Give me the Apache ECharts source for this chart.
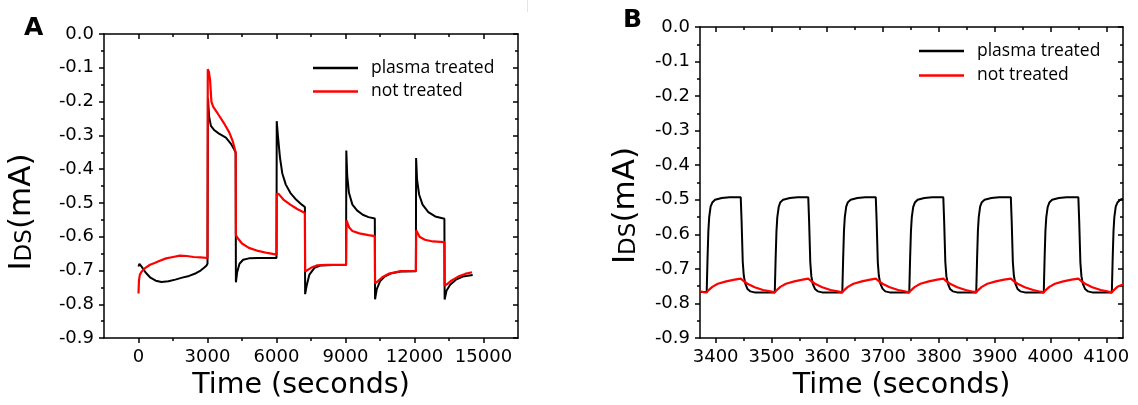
<!DOCTYPE html>
<html><head><meta charset="utf-8">
<script src="https://cdn.jsdelivr.net/npm/echarts@6/dist/echarts.min.js"></script>
<style>html,body{margin:0;padding:0;background:#fff}#c{width:1138px;height:405px}</style>
</head><body><div id="c"></div>
<script>
// ---------- data ----------
const seriesNames = ['plasma treated', 'not treated'];
const panelLabels = ['A', 'B'];
const xTitle = 'Time (seconds)';
const yTitleRich = '{a|I}{b|DS}{a|(mA)}';

const xTicksA = [0, 3000, 6000, 9000, 12000, 15000];
const xMinorA = [1500, 4500, 7500, 10500, 13500];
const xTicksB = [3400, 3500, 3600, 3700, 3800, 3900, 4000, 4100];
const xMinorB = [3450, 3550, 3650, 3750, 3850, 3950, 4050];

// Panel A: long time series
const plasmaA = [
  [0,-0.688],[40,-0.680],[80,-0.679],[150,-0.690],[300,-0.705],[500,-0.720],[750,-0.730],[1000,-0.734],
  [1300,-0.732],[1600,-0.727],[1900,-0.721],[2200,-0.716],[2500,-0.708],[2700,-0.700],[2850,-0.692],
  [2950,-0.686],[3000,-0.680],[3020,-0.190],[3070,-0.245],[3150,-0.272],[3300,-0.285],[3500,-0.295],
  [3800,-0.307],[4030,-0.326],[4150,-0.340],[4225,-0.352],[4235,-0.735],[4290,-0.705],[4390,-0.680],
  [4550,-0.668],[4800,-0.664],[5200,-0.663],[6000,-0.663],[6010,-0.258],[6060,-0.300],[6150,-0.365],
  [6250,-0.412],[6400,-0.445],[6600,-0.470],[6850,-0.490],[7100,-0.505],[7235,-0.512],[7245,-0.770],
  [7310,-0.745],[7430,-0.712],[7650,-0.692],[7900,-0.685],[8500,-0.684],[9025,-0.684],[9035,-0.345],
  [9075,-0.420],[9150,-0.470],[9300,-0.505],[9500,-0.522],[9750,-0.535],[10000,-0.542],[10275,-0.546],
  [10285,-0.785],[10360,-0.755],[10500,-0.732],[10700,-0.718],[11000,-0.708],[11400,-0.703],
  [12060,-0.702],[12070,-0.367],[12110,-0.430],[12200,-0.475],[12350,-0.505],[12600,-0.527],
  [12900,-0.540],[13300,-0.547],[13310,-0.786],[13390,-0.760],[13550,-0.742],[13800,-0.727],
  [14100,-0.718],[14530,-0.713]
];
const notTreatedA = [
  [0,-0.768],[20,-0.730],[60,-0.712],[150,-0.702],[300,-0.692],[500,-0.683],[700,-0.678],[900,-0.672],
  [1200,-0.664],[1500,-0.660],[1800,-0.656],[2100,-0.657],[2400,-0.660],[2700,-0.661],[3000,-0.663],
  [3012,-0.104],[3060,-0.112],[3110,-0.135],[3170,-0.200],[3250,-0.216],[3450,-0.236],[3700,-0.262],
  [3950,-0.292],[4100,-0.318],[4225,-0.350],[4235,-0.595],[4300,-0.603],[4500,-0.620],[4800,-0.633],
  [5200,-0.642],[5600,-0.648],[6000,-0.653],[6012,-0.472],[6100,-0.474],[6300,-0.490],[6600,-0.505],
  [6900,-0.518],[7235,-0.530],[7245,-0.703],[7330,-0.700],[7500,-0.692],[7750,-0.685],[8200,-0.683],
  [9025,-0.683],[9040,-0.552],[9080,-0.558],[9160,-0.573],[9300,-0.583],[9600,-0.590],[10000,-0.595],
  [10275,-0.598],[10285,-0.738],[10400,-0.732],[10600,-0.720],[10900,-0.709],[11400,-0.702],
  [12060,-0.701],[12075,-0.581],[12120,-0.586],[12220,-0.600],[12450,-0.609],[12800,-0.614],
  [13300,-0.616],[13310,-0.745],[13420,-0.740],[13600,-0.730],[13900,-0.718],[14200,-0.710],[14500,-0.705]
];

// Panel B: zoom 3372-4130 s
const plasmaB = [
  [3372,-0.767],[3384,-0.767],
  [3385.5,-0.670],[3387,-0.590],[3388.5,-0.550],[3391,-0.520],[3394,-0.508],[3399,-0.500],[3411,-0.495],[3425,-0.493],[3445,-0.493],
  [3446.5,-0.560],[3448.6,-0.680],[3450.5,-0.720],[3453,-0.742],[3457,-0.758],[3462,-0.765],[3470,-0.768],[3506,-0.768],
  [3507.5,-0.672],[3509,-0.592],[3510.5,-0.551],[3513,-0.521],[3516,-0.507],[3521,-0.500],[3533,-0.495],[3547,-0.493],[3566,-0.493],
  [3567.5,-0.561],[3569.6,-0.680],[3571.5,-0.721],[3574,-0.743],[3578,-0.758],[3583,-0.765],[3591,-0.768],[3627,-0.768],
  [3628.5,-0.671],[3630,-0.590],[3631.5,-0.550],[3634,-0.520],[3637,-0.507],[3642,-0.500],[3654,-0.495],[3668,-0.493],[3687,-0.493],
  [3688.5,-0.560],[3690.6,-0.681],[3692.5,-0.720],[3695,-0.742],[3699,-0.757],[3704,-0.765],[3712,-0.768],[3747,-0.768],
  [3748.5,-0.670],[3750,-0.591],[3751.5,-0.551],[3754,-0.521],[3757,-0.508],[3762,-0.500],[3774,-0.495],[3788,-0.493],[3808,-0.493],
  [3809.5,-0.561],[3811.6,-0.680],[3813.5,-0.721],[3816,-0.742],[3820,-0.758],[3825,-0.765],[3833,-0.768],[3867,-0.768],
  [3868.5,-0.671],[3870,-0.590],[3871.5,-0.550],[3874,-0.520],[3877,-0.507],[3882,-0.500],[3894,-0.495],[3908,-0.493],[3929,-0.493],
  [3930.5,-0.560],[3932.6,-0.680],[3934.5,-0.720],[3937,-0.742],[3941,-0.758],[3946,-0.765],[3954,-0.768],[3988,-0.768],
  [3989.5,-0.670],[3991,-0.590],[3992.5,-0.551],[3995,-0.521],[3998,-0.508],[4003,-0.500],[4015,-0.495],[4029,-0.493],[4050,-0.493],
  [4051.5,-0.561],[4053.6,-0.681],[4055.5,-0.721],[4058,-0.743],[4062,-0.758],[4067,-0.765],[4075,-0.768],[4110,-0.768],
  [4111.5,-0.670],[4113,-0.590],[4114.5,-0.550],[4117,-0.520],[4120,-0.508],[4125,-0.500],[4130,-0.497]
];
const notTreatedB = [
  [3372,-0.765],[3378,-0.767],[3384,-0.768],
  [3387,-0.762],[3394,-0.752],[3404,-0.743],[3419,-0.736],[3434,-0.731],[3445,-0.728],
  [3450,-0.735],[3457,-0.743],[3470,-0.753],[3485,-0.761],[3500,-0.766],[3506,-0.768],
  [3509,-0.762],[3516,-0.752],[3526,-0.743],[3541,-0.736],[3556,-0.731],[3566,-0.728],
  [3571,-0.735],[3578,-0.743],[3591,-0.753],[3606,-0.761],[3621,-0.766],[3627,-0.768],
  [3630,-0.762],[3637,-0.752],[3647,-0.743],[3662,-0.736],[3677,-0.731],[3687,-0.728],
  [3692,-0.735],[3699,-0.743],[3712,-0.753],[3727,-0.761],[3741,-0.766],[3747,-0.768],
  [3750,-0.762],[3757,-0.752],[3767,-0.743],[3782,-0.736],[3797,-0.731],[3808,-0.728],
  [3813,-0.735],[3820,-0.743],[3833,-0.753],[3848,-0.761],[3861,-0.766],[3867,-0.768],
  [3870,-0.762],[3877,-0.752],[3887,-0.743],[3902,-0.736],[3917,-0.731],[3929,-0.728],
  [3934,-0.735],[3941,-0.743],[3954,-0.753],[3969,-0.761],[3982,-0.766],[3988,-0.768],
  [3991,-0.762],[3998,-0.752],[4008,-0.743],[4023,-0.736],[4038,-0.731],[4050,-0.728],
  [4055,-0.735],[4062,-0.743],[4075,-0.753],[4090,-0.761],[4104,-0.766],[4110,-0.768],
  [4113,-0.762],[4120,-0.752],[4130,-0.745]
];

// ---------- chart ----------
const FONT = 'DejaVu Sans, sans-serif';
const BLACK = '#000000', RED = '#ff0000';
const grids = [
  { left: 104, top: 34, width: 414, height: 306 },
  { left: 700, top: 27, width: 423, height: 311 }
];
const xRanges = [[-1500, 16500], [3372, 4130]];
const majors = [xTicksA, xTicksB];
const minors = [xMinorA, xMinorB];
const xNameGap = [17, 31];
const yNameGap = [67, 59];
const yNameShift = [52, 46];

const axisLine = { show: true, onZero: false, lineStyle: { color: BLACK, width: 1.5 } };
const xAxis = [], yAxis = [];
grids.forEach((g, gi) => {
  const [mn, mx] = xRanges[gi];
  xAxis.push({
    gridIndex: gi, type: 'value', position: 'bottom', min: mn, max: mx,
    axisLine, splitLine: { show: false },
    axisTick: { show: true, inside: false, length: 5, customValues: majors[gi], lineStyle: { color: BLACK, width: 1.5 } },
    axisLabel: { show: true, customValues: majors[gi], margin: 10, color: BLACK, fontFamily: FONT, fontSize: 18,
      formatter: v => String(Math.round(v)) },
    name: xTitle, nameLocation: 'middle', nameGap: xNameGap[gi],
    nameTextStyle: { color: BLACK, fontFamily: FONT, fontSize: 28.5, padding: [0, 20, 0, 0] }
  });
  xAxis.push({
    gridIndex: gi, type: 'value', position: 'bottom', min: mn, max: mx,
    axisLine: { show: false, onZero: false }, splitLine: { show: false },
    axisTick: { show: true, inside: false, length: 3, customValues: minors[gi], lineStyle: { color: BLACK, width: 1.5 } },
    axisLabel: { show: false }
  });
  xAxis.push({
    gridIndex: gi, type: 'value', position: 'top', min: mn, max: mx,
    axisLine, splitLine: { show: false },
    axisTick: { show: true, inside: true, length: 5, customValues: majors[gi], lineStyle: { color: BLACK, width: 1.5 } },
    axisLabel: { show: false }
  });
  xAxis.push({
    gridIndex: gi, type: 'value', position: 'top', min: mn, max: mx,
    axisLine: { show: false, onZero: false }, splitLine: { show: false },
    axisTick: { show: true, inside: true, length: 3, customValues: minors[gi], lineStyle: { color: BLACK, width: 1.5 } },
    axisLabel: { show: false }
  });
  yAxis.push({
    gridIndex: gi, type: 'value', position: 'left', min: -0.9, max: 0, interval: 0.1,
    axisLine, splitLine: { show: false },
    axisTick: { show: true, inside: false, length: 5, lineStyle: { color: BLACK, width: 1.5 } },
    minorTick: { show: true, splitNumber: 2, length: 3, lineStyle: { color: BLACK, width: 1.5 } },
    minorSplitLine: { show: false },
    axisLabel: { margin: 10, color: BLACK, fontFamily: FONT, fontSize: 18,
      formatter: v => (Math.abs(v) < 1e-9 ? '0.0' : v.toFixed(1)) },
    name: yTitleRich, nameLocation: 'middle', nameRotate: 90, nameGap: yNameGap[gi],
    nameTextStyle: { padding: [0, yNameShift[gi], 0, 0], rich: {
      a: { fontFamily: FONT, fontSize: 31, color: BLACK, verticalAlign: 'bottom', lineHeight: 33 },
      b: { fontFamily: FONT, fontSize: 23, color: BLACK, verticalAlign: 'bottom', lineHeight: 25 }
    } }
  });
  yAxis.push({
    gridIndex: gi, type: 'value', position: 'right', min: -0.9, max: 0, interval: 0.1,
    axisLine, splitLine: { show: false },
    axisTick: { show: true, inside: true, length: 5, lineStyle: { color: BLACK, width: 1.5 } },
    minorTick: { show: true, splitNumber: 2, length: 3, lineStyle: { color: BLACK, width: 1.5 } },
    minorSplitLine: { show: false },
    axisLabel: { show: false }
  });
});

const dataSets = [[plasmaA, notTreatedA], [plasmaB, notTreatedB]];
const colors = [BLACK, RED];
const series = [];
dataSets.forEach((pair, gi) => {
  pair.forEach((d, si) => {
    series.push({
      name: seriesNames[si], type: 'line', xAxisIndex: gi * 4, yAxisIndex: gi * 2,
      data: d, showSymbol: false, symbol: 'none', smooth: false, z: 2 + si,
      lineStyle: { color: colors[si], width: si === 1 ? 2.2 : 2 }, itemStyle: { color: colors[si] }
    });
  });
});

const legendCommon = {
  orient: 'vertical', icon: 'rect', itemWidth: 45, itemHeight: 2.5, selectedMode: false,
  data: seriesNames, padding: 0,
  textStyle: { fontFamily: 'Open Sans', fontSize: 17.5, color: BLACK, lineHeight: 20, padding: [0, 0, 0, 8] }
};
const legend = [
  Object.assign({}, legendCommon, { left: 313, top: 58, itemGap: 3.5 }),
  Object.assign({}, legendCommon, { left: 919, top: 41, itemGap: 4.5 })
];

const chart = echarts.init(document.getElementById('c'), null, { renderer: 'canvas' });
chart.setOption({
  animation: false,
  backgroundColor: '#ffffff',
  grid: grids.map(g => Object.assign({ containLabel: false }, g)),
  xAxis, yAxis, series, legend,
  graphic: [
    { type: 'text', left: 24, top: 16, style: { text: panelLabels[0], font: 'bold 25px ' + FONT, fill: BLACK } },
    { type: 'text', left: 623, top: 8, style: { text: panelLabels[1], font: 'bold 25px ' + FONT, fill: BLACK } },
    { type: 'line', shape: { x1: 527.5, y1: 0, x2: 527.5, y2: 12 }, style: { stroke: '#e4e4e4', lineWidth: 1 } }
  ]
});
</script></body></html>
